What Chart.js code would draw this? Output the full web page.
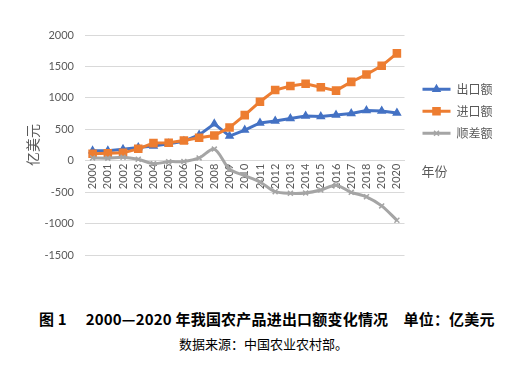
<!DOCTYPE html>
<html>
<head>
<meta charset="utf-8">
<script src="https://cdn.jsdelivr.net/npm/chart.js@4/dist/chart.umd.min.js"></script>
<style>
  html, body { margin: 0; padding: 0; background: #fff; }
  #wrap { position: relative; width: 519px; height: 372px; }
  #c { position: absolute; left: 0; top: 0; }
  .cap1 { position: absolute; left: 39px; top: 308px; white-space: pre; font: bold 15px "Noto Sans CJK SC", sans-serif; color: #000; letter-spacing: 0.2px; }
  .cap2 { position: absolute; left: 179px; top: 334px; white-space: pre; font: 13px "Noto Sans CJK SC", sans-serif; color: #000; }
</style>
</head>
<body>
<div id="wrap">
  <canvas id="c" width="519" height="300"></canvas>
  <div class="cap1">图 1　 2000—2020 年我国农产品进出口额变化情况　单位：亿美元</div>
  <div class="cap2">数据来源：中国农业农村部。</div>
</div>
<script>
const years = ['2000','2001','2002','2003','2004','2005','2006','2007','2008','2009','2010',
               '2011','2012','2013','2014','2015','2016','2017','2018','2019','2020'];
const exportValues = [157,160,181,212,233,271,310,411,587,392,488,601,632,671,713,703,726,751,797,791,760];
const importValues = [112,119,125,189,280,287,321,366,402,527,725,939,1124,1189,1225,1168,1115,1254,1371,1510,1708];
const balanceValues = [45,41,56,23,-47,-16,-11,45,185,-135,-237,-338,-492,-518,-512,-465,-389,-503,-574,-719,-948];
const seriesNames = ['出口额','进口额','顺差额'];
const yTicks = [2000,1500,1000,500,0,-500,-1000,-1500];
const yTitle = '亿美元';
const xTitle = '年份';

const colors = ['#4472C4','#ED7D31','#A5A5A5'];
const styles = [
  {pointStyle:'triangle', radius:4},
  {pointStyle:'rect', radius:5},
  {pointStyle:'crossRot', radius:3.5}
];
const grey = '#595959';

const markerLegend = {
  id: 'markerLegend',
  afterDraw(chart) {
    const lg = chart.legend;
    const ctx = chart.ctx;
    if (lg && lg.legendHitBoxes) {
      lg.legendHitBoxes.forEach((hb, i) => {
        const item = lg.legendItems[i];
        const k = item ? item.datasetIndex : i;
        const x = hb.left + 14, y = hb.top + hb.height / 2;
        ctx.save();
        ctx.fillStyle = colors[k];
        ctx.strokeStyle = colors[k];
        ctx.lineWidth = 1.5;
        Chart.helpers.drawPoint(ctx, {pointStyle: styles[k].pointStyle, radius: styles[k].radius, rotation: 0, borderWidth: 1.5}, x, y);
        ctx.restore();
      });
    }
    const ca = chart.chartArea;
    const y0 = chart.scales.y.getPixelForValue(0);
    ctx.save();
    ctx.font = '13px "Noto Sans CJK SC"';
    ctx.fillStyle = grey;
    ctx.textAlign = 'left';
    ctx.textBaseline = 'middle';
    ctx.fillText(xTitle, ca.right + 17, y0 + 10);
    ctx.restore();
  }
};

const values = [exportValues, importValues, balanceValues];
new Chart(document.getElementById('c'), {
  type: 'line',
  data: {
    labels: years,
    datasets: values.map((v, i) => ({
      label: seriesNames[i],
      data: v,
      borderColor: colors[i],
      backgroundColor: colors[i],
      pointBackgroundColor: colors[i],
      pointBorderColor: colors[i],
      borderWidth: 3,
      pointStyle: styles[i].pointStyle,
      pointRadius: styles[i].radius,
      pointBorderWidth: 1.5,
      tension: i === 2 ? 0.3 : 0,
      order: 3 - i
    }))
  },
  options: {
    responsive: false,
    animation: false,
    layout: { padding: { top: 35, bottom: 45, left: 0, right: 24 } },
    scales: {
      x: {
        position: { y: 0 },
        offset: true,
        grid: { display: false, drawTicks: false },
        border: { display: true, color: '#D9D9D9', width: 1 },
        ticks: { autoSkip: false, minRotation: 90, maxRotation: 90, padding: 3, color: grey, font: { family: 'Lato', size: 11 } }
      },
      y: {
        min: yTicks[yTicks.length - 1],
        max: yTicks[0],
        afterBuildTicks: s => { s.ticks = yTicks.map(v => ({ value: v })); },
        afterFit: s => { s.width = 85; },
        grid: { color: '#D9D9D9', lineWidth: 1, drawTicks: false },
        border: { display: false },
        ticks: { padding: 11, color: grey, font: { family: 'Lato', size: 11 }, callback: v => String(v) },
        title: { display: true, text: yTitle, color: grey, font: { family: 'Noto Sans CJK SC', size: 14 }, padding: { top: 24, bottom: 0 } }
      },
      yR: {
        type: 'linear',
        position: 'right',
        display: true,
        grid: { display: false, drawTicks: false },
        border: { display: false },
        ticks: { display: false },
        afterFit: s => { s.width = 8; }
      }
    },
    plugins: {
      legend: {
        position: 'right',
        align: 'start',
        title: { display: true, text: '', font: { size: 12, lineHeight: 1 }, padding: { top: 0, bottom: 26.3 } },
        labels: {
          boxWidth: 28,
          boxHeight: 3,
          padding: 10,
          color: grey,
          font: { family: 'Noto Sans CJK SC', size: 12 },
          sort: (a, b) => a.datasetIndex - b.datasetIndex,
          generateLabels: chart => Chart.defaults.plugins.legend.labels.generateLabels(chart).map(l => Object.assign(l, { lineWidth: 0 }))
        }
      },
      tooltip: { enabled: false }
    }
  },
  plugins: [markerLegend]
});
</script>
</body>
</html>
